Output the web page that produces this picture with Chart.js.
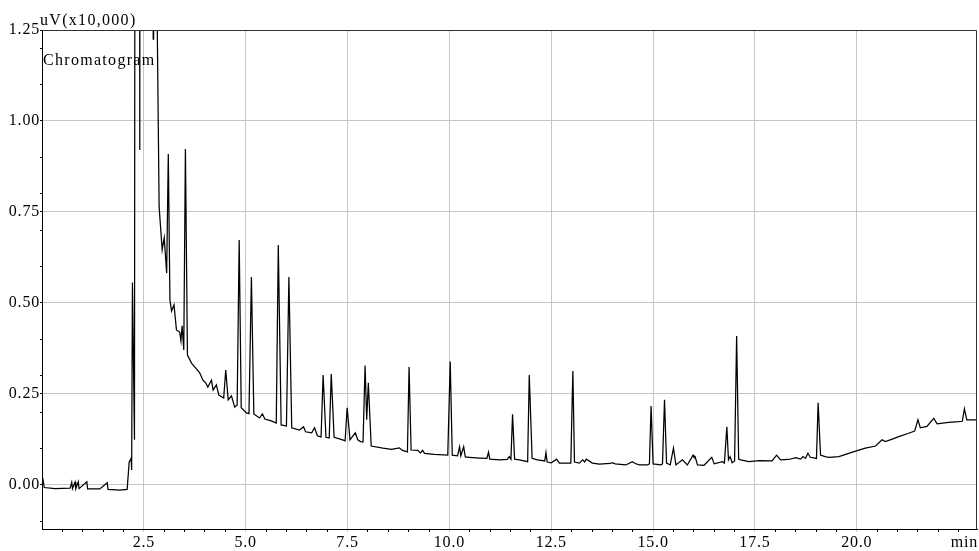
<!DOCTYPE html>
<html><head><meta charset="utf-8">
<script src="https://cdn.jsdelivr.net/npm/chart.js@4/dist/chart.umd.min.js"></script>
<style>html,body{margin:0;padding:0;background:#fff;}canvas{display:block;}</style>
</head><body>
<canvas id="c" width="979" height="551"></canvas>
<script>
// retention time (min)
const times = [
  0.00,0.025,0.056,0.32,0.69,0.73,0.75,0.81,0.83,0.89,
  0.91,1.10,1.12,1.42,1.60,1.62,1.91,2.09,2.14,2.17,
  2.19,2.20,2.22,2.27,2.29,2.39,2.40,2.41,2.72,2.73,
  2.74,2.81,2.83,2.875,2.95,3.00,3.06,3.10,3.14,3.18,
  3.24,3.30,3.38,3.41,3.44,3.48,3.52,3.57,3.67,3.79,
  3.87,3.95,4.02,4.07,4.16,4.20,4.28,4.34,4.46,4.51,
  4.57,4.65,4.73,4.79,4.84,4.89,5.02,5.08,5.14,5.20,
  5.34,5.41,5.47,5.63,5.75,5.80,5.87,6.00,6.06,6.13,
  6.32,6.42,6.47,6.62,6.69,6.76,6.85,6.90,6.97,7.05,
  7.10,7.17,7.38,7.44,7.49,7.56,7.69,7.75,7.82,7.88,
  7.93,7.97,8.01,8.08,8.37,8.58,8.77,8.85,8.97,9.01,
  9.06,9.22,9.29,9.34,9.39,9.63,9.96,10.02,10.07,10.20,
  10.25,10.28,10.35,10.39,10.49,10.74,10.92,10.96,10.99,11.23,
  11.42,11.47,11.51,11.55,11.60,11.72,11.92,11.96,12.03,12.16,
  12.34,12.37,12.40,12.50,12.63,12.70,12.98,13.03,13.07,13.19,
  13.27,13.32,13.36,13.51,13.68,13.95,14.00,14.07,14.33,14.49,
  14.56,14.66,14.86,14.91,14.95,15.00,15.19,15.23,15.28,15.33,
  15.42,15.50,15.56,15.72,15.84,15.98,16.00,16.03,16.09,16.25,
  16.44,16.50,16.70,16.75,16.81,16.85,16.89,16.94,17.00,17.05,
  17.10,17.15,17.35,17.60,17.92,18.03,18.13,18.33,18.50,18.62,
  18.68,18.74,18.80,18.86,19.01,19.05,19.11,19.22,19.31,19.56,
  19.80,19.97,20.21,20.46,20.62,20.70,20.87,21.03,21.27,21.42,
  21.50,21.56,21.72,21.89,21.97,22.25,22.50,22.59,22.64,22.70,
  22.95
];
// detector signal (uV x10,000); values above 1.25 run off scale
const signal = [
  0.025,0.014,-0.007,-0.010,-0.009,0.007,-0.010,0.008,-0.010,0.009,
  -0.010,0.009,-0.011,-0.011,0.006,-0.012,-0.014,-0.012,0.063,0.069,
  0.074,0.041,0.556,0.124,3.0,3.0,0.92,3.0,3.0,1.225,
  3.0,2.5,1.25,0.764,0.646,0.679,0.582,0.909,0.508,0.478,
  0.495,0.426,0.420,0.396,0.437,0.371,0.923,0.357,0.335,0.319,
  0.308,0.288,0.280,0.269,0.288,0.261,0.275,0.247,0.239,0.316,
  0.234,0.245,0.214,0.220,0.673,0.212,0.198,0.196,0.571,0.195,
  0.184,0.195,0.181,0.176,0.170,0.659,0.165,0.162,0.571,0.157,
  0.151,0.160,0.146,0.143,0.157,0.135,0.132,0.302,0.131,0.129,
  0.305,0.131,0.124,0.121,0.212,0.124,0.143,0.124,0.119,0.118,
  0.328,0.179,0.281,0.107,0.101,0.098,0.102,0.095,0.091,0.324,
  0.096,0.095,0.088,0.095,0.087,0.084,0.082,0.339,0.082,0.080,
  0.105,0.080,0.105,0.077,0.076,0.074,0.073,0.090,0.071,0.069,
  0.070,0.078,0.071,0.194,0.071,0.069,0.064,0.302,0.073,0.069,
  0.066,0.089,0.063,0.061,0.071,0.060,0.060,0.313,0.063,0.060,
  0.069,0.063,0.071,0.060,0.057,0.059,0.061,0.058,0.055,0.064,
  0.059,0.055,0.055,0.058,0.217,0.058,0.055,0.058,0.234,0.060,
  0.055,0.101,0.055,0.069,0.055,0.082,0.077,0.078,0.055,0.054,
  0.076,0.058,0.064,0.060,0.160,0.069,0.078,0.061,0.066,0.409,
  0.071,0.069,0.064,0.067,0.066,0.082,0.069,0.070,0.075,0.071,
  0.078,0.073,0.087,0.076,0.073,0.226,0.082,0.078,0.076,0.078,
  0.087,0.093,0.101,0.107,0.124,0.119,0.126,0.133,0.142,0.148,
  0.179,0.157,0.161,0.183,0.168,0.172,0.174,0.175,0.209,0.179,
  0.179
];
const xMajorTicks = [2.5,5,7.5,10,12.5,15,17.5,20];
const xTickLabels = ['2.5','5.0','7.5','10.0','12.5','15.0','17.5','20.0'];
const yMajorTicks = [0,0.25,0.5,0.75,1,1.25];
const yTickLabels = ['0.00','0.25','0.50','0.75','1.00','1.25'];
const yUnitLabel = 'uV(x10,000)';
const xUnitLabel = 'min';
const traceName = 'Chromatogram';
const X_MIN = 0, X_MAX = 22.95, Y_MIN = -0.121, Y_MAX = 1.25;
const X_MINOR = 0.5, Y_MINOR = 0.1;

function idx(v, arr){ for(let i=0;i<arr.length;i++){ if(Math.abs(arr[i]-v)<1e-6) return i; } return -1; }
function buildTicks(min,max,step,majors){
  const out=[];
  for(let i=Math.ceil(min/step+1e-9); i*step<=max+1e-9; i++){ const v=+(i*step).toFixed(4); if(Math.abs(v-min)>1e-6) out.push(v); }
  majors.forEach(m=>{ if(idx(m,out)<0) out.push(m); });
  return out.sort((a,b)=>a-b);
}
const xTicks = buildTicks(X_MIN, X_MAX, X_MINOR, xMajorTicks);
const yTicks = buildTicks(Y_MIN, Y_MAX, Y_MINOR, yMajorTicks);

const points = times.map((t,i)=>({x:t, y:signal[i]}));
const FONT = {family:'"Liberation Serif", "Times New Roman", serif', size:16};
const GRID = '#c6c6c6';

const decor = {
  id:'decor',
  beforeDraw(chart){ chart.ctx.letterSpacing='0.8px'; },
  afterDraw(chart){
    const {ctx, chartArea:a} = chart;
    ctx.save();
    ctx.strokeStyle='#333'; ctx.lineWidth=1;
    ctx.beginPath();
    ctx.moveTo(a.left, a.top+0.5); ctx.lineTo(a.right-0.5, a.top+0.5); ctx.lineTo(a.right-0.5, a.bottom);
    ctx.stroke();
    ctx.letterSpacing='1.3px';
    ctx.font='16px "Liberation Serif", "Times New Roman", serif';
    ctx.fillStyle='#000';
    ctx.textAlign='left'; ctx.textBaseline='alphabetic';
    ctx.fillText(yUnitLabel, a.left-2, a.top-5);
    ctx.fillText(traceName, a.left+1, a.top+35);
    ctx.letterSpacing='0.8px';
    ctx.textAlign='right'; ctx.textBaseline='middle';
    ctx.fillText(xUnitLabel, a.right+1, 543);
    ctx.restore();
  }
};

new Chart(document.getElementById('c'), {
  type:'line',
  data:{ datasets:[{ label:traceName, data:points, borderColor:'#000', borderWidth:1.25, pointRadius:0, tension:0, fill:false }] },
  options:{
    responsive:false, animation:false, parsing:true,
    layout:{ padding:{top:30, right:2, left:0, bottom:0} },
    plugins:{ legend:{display:false}, tooltip:{enabled:false}, title:{display:false} },
    scales:{
      x:{
        type:'linear', min:X_MIN, max:X_MAX,
        afterBuildTicks(axis){ axis.ticks = xTicks.map(v=>({value:v})); },
        afterFit(s){ s.height = 22; },
        ticks:{ autoSkip:false, maxRotation:0, minRotation:0, padding:1, color:'#000', font:FONT,
          callback(v){ const i=idx(v,xMajorTicks); return i>=0 ? xTickLabels[i] : ''; } },
        grid:{ lineWidth:1, tickLength:3,
          color(c){ return c.tick && idx(c.tick.value,xMajorTicks)>=0 ? GRID : 'rgba(0,0,0,0)'; },
          tickColor(c){ return c.tick && idx(c.tick.value,xMajorTicks)>=0 ? GRID : '#000'; } },
        border:{ color:'#000', width:1 }
      },
      y:{
        type:'linear', min:Y_MIN, max:Y_MAX,
        afterBuildTicks(axis){ axis.ticks = yTicks.map(v=>({value:v})); },
        afterFit(s){ s.width = 42; },
        ticks:{ autoSkip:false, padding:0, color:'#000', font:FONT,
          callback(v){ const i=idx(v,yMajorTicks); return i>=0 ? yTickLabels[i] : ''; } },
        grid:{ lineWidth:1, tickLength:2,
          color(c){ const i = c.tick ? idx(c.tick.value,yMajorTicks) : -1; return (i>=0 && i<yMajorTicks.length-1) ? GRID : 'rgba(0,0,0,0)'; },
          tickColor:'#000' },
        border:{ color:'#000', width:1 }
      }
    }
  },
  plugins:[decor]
});
</script>
</body></html>
